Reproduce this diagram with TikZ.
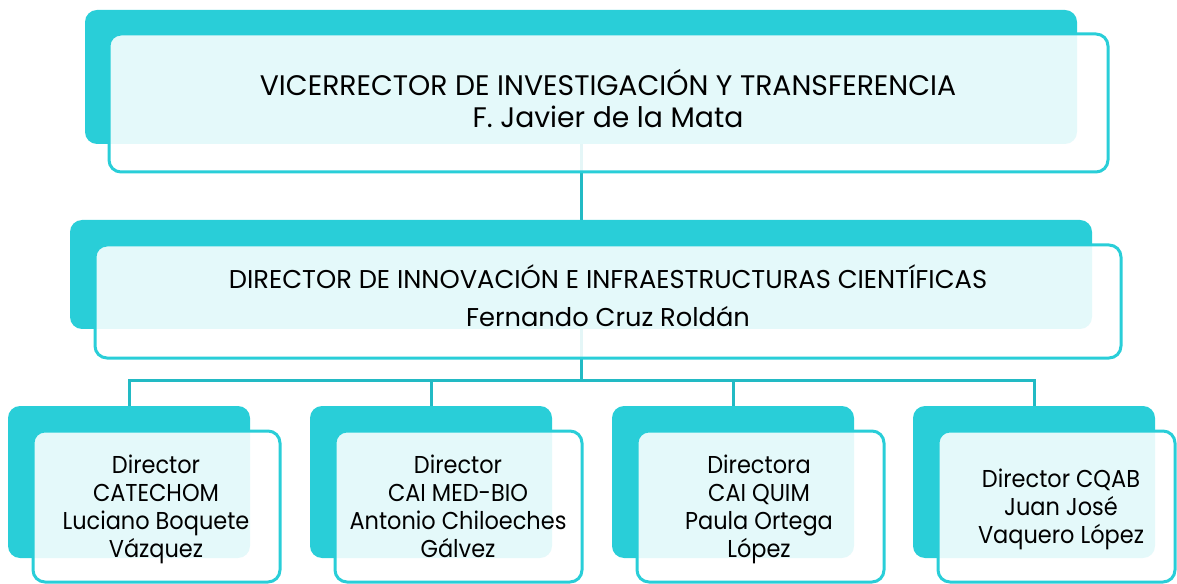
\documentclass[tikz,border=0pt]{standalone}
\usepackage{fontspec}
\setmainfont{Poppins}
\newfontfamily\botfont[FakeStretch=0.92]{Poppins}
\usetikzlibrary{backgrounds}
\definecolor{tealA}{RGB}{41,206,216}
\definecolor{connC}{RGB}{34,186,196}
\def\pxu{0.75pt}
\newcommand\lines[1]{\begin{tabular}[t]{@{}c@{}}#1\end{tabular}}
\tikzset{
  backbox/.style={fill=tealA, draw=none, rounded corners=9pt, inner sep=0pt},
  frontbox/.style={draw=tealA, line width=2.25pt, fill=white, fill opacity=0.88,
    draw opacity=1, rounded corners=9pt, inner sep=0pt},
  conn/.style={draw=connC, line width=2.25pt},
  txt/.style={inner sep=0pt, anchor=base, text=black},
  toptext/.style={txt, font=\fontsize{21.2}{24}\selectfont},
  midtext/.style={txt, font=\fontsize{19.3}{28.5}\selectfont},
  bottext/.style={txt, font=\botfont\fontsize{18.3}{21}\selectfont},
}
\begin{document}
\begin{tikzpicture}[x=0.75pt,y=-0.75pt]
\useasboundingbox (0,0) rectangle (1177,584);
% back boxes
\node[backbox, minimum width=992*\pxu, minimum height=134*\pxu] (topB) at (581,77) {};
\node[backbox, minimum width=1022*\pxu, minimum height=109*\pxu] (midB) at (581,274.5) {};
\node[backbox, minimum width=242*\pxu, minimum height=152*\pxu] (b1B) at (129,482) {};
\node[backbox, minimum width=242*\pxu, minimum height=152*\pxu] (b2B) at (431,482) {};
\node[backbox, minimum width=242*\pxu, minimum height=152*\pxu] (b3B) at (733,482) {};
\node[backbox, minimum width=242*\pxu, minimum height=152*\pxu] (b4B) at (1034,482) {};
\coordinate (bus) at (581,380);
% connectors behind everything
\begin{scope}[on background layer]
\draw[conn] (topB.south) -- (midB.north);
\draw[conn] (midB.south) -- (bus);
\draw[conn] (bus) -| (b1B.north);
\draw[conn] (bus) -| (b2B.north);
\draw[conn] (bus) -| (b3B.north);
\draw[conn] (bus) -| (b4B.north);
\end{scope}
% front boxes
\node[frontbox, minimum width=999*\pxu, minimum height=138*\pxu] (topF) at (608.5,103) {};
\node[frontbox, minimum width=1026*\pxu, minimum height=113*\pxu] (midF) at (608,301.5) {};
\node[frontbox, minimum width=247*\pxu, minimum height=151*\pxu] (b1F) at (156.5,506.5) {};
\node[frontbox, minimum width=247*\pxu, minimum height=151*\pxu] (b2F) at (458.5,506.5) {};
\node[frontbox, minimum width=247*\pxu, minimum height=151*\pxu] (b3F) at (760.5,506.5) {};
\node[frontbox, minimum width=237*\pxu, minimum height=151*\pxu] (b4F) at (1056.5,506.5) {};
% texts (anchored at the first baseline)
\node[toptext] (topT) at (608,95.5)
  {\lines{VICERRECTOR DE INVESTIGACIÓN Y TRANSFERENCIA\\F. Javier de la Mata}};
\node[midtext] (midT) at (608,289)
  {\lines{DIRECTOR DE INNOVACIÓN E INFRAESTRUCTURAS CIENTÍFICAS\\Fernando Cruz Roldán}};
\node[bottext] (b1T) at (156,473) {\lines{Director\\CATECHOM\\Luciano Boquete\\Vázquez}};
\node[bottext] (b2T) at (458,473) {\lines{Director\\CAI MED-BIO\\Antonio Chiloeches\\Gálvez}};
\node[bottext] (b3T) at (759,473) {\lines{Directora\\CAI QUIM\\Paula Ortega\\López}};
\node[bottext] (b4T) at (1061,487) {\lines{Director CQAB\\Juan José\\Vaquero López}};
\end{tikzpicture}
\end{document}
